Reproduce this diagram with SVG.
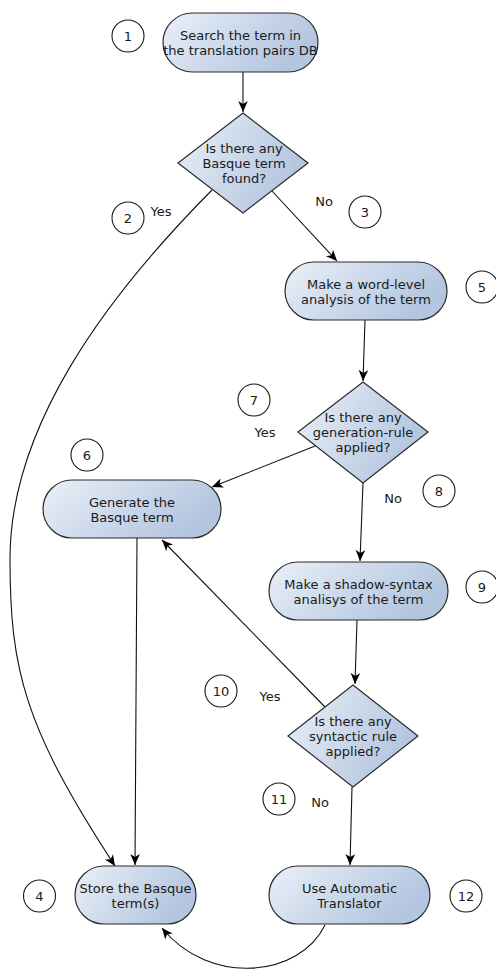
<svg xmlns="http://www.w3.org/2000/svg" width="496" height="971" viewBox="0 0 496 971">
<style>
.node{stroke:#2b2b2b;stroke-width:1.2;fill:url(#g)}
.t{font-family:"DejaVu Sans","Liberation Sans",sans-serif;font-size:13px;fill:#1a1a1a;text-anchor:middle}
.c{fill:#fff;stroke:#1a1a1a;stroke-width:1.1}
.e{fill:none;stroke:#111;stroke-width:1.1;marker-end:url(#ah)}
</style>
<defs>
<linearGradient id="g" x1="0" y1="0" x2="1" y2="0.4">
<stop offset="0" stop-color="#eaf0f8"/>
<stop offset="1" stop-color="#b3c5df"/>
</linearGradient>
<marker id="ah" viewBox="-12 -6 13 12" refX="0" refY="0" markerWidth="13" markerHeight="12" markerUnits="userSpaceOnUse" orient="auto">
<path d="M0,0 L-11,-4.8 L-8,0 L-11,4.8 z" fill="#000"/>
</marker>
</defs>
<rect width="496" height="971" fill="#fff"/>

<g id="connectors">
<path class="e" d="M243,72 L243,112"/>
<path class="e" d="M272,191 L337,261"/>
<path class="e" d="M365,320 L363,381"/>
<path class="e" d="M315,446 L212,487"/>
<path class="e" d="M363,483 L360,561"/>
<path class="e" d="M357,620 L355,684"/>
<path class="e" d="M325,707 L162,540"/>
<path class="e" d="M352,787 L350,865"/>
<path class="e" d="M137,538 L135,865"/>
<path class="e" d="M212,190 C102,301 10,429 10,559 C10,669 24,727 115,866"/>
<path class="e" d="M325,925 C300,977 210,987 162,928"/>
</g>

<g id="n1"><rect class="node" x="163" y="13" width="155" height="59" rx="29.5"/>
<text class="t" x="240.5" y="39.5">Search the term in</text><text class="t" x="240.5" y="54.5">the translation pairs DB</text></g>
<g id="c1"><circle class="c" cx="128" cy="36" r="16"/><text class="t" x="128" y="40.5">1</text></g>

<g id="d1"><polygon class="node" points="243,113 308,163 243,213 178,163"/>
<text class="t" x="244" y="153">Is there any</text><text class="t" x="244" y="168">Basque term</text><text class="t" x="244" y="183">found?</text></g>

<g id="c2"><circle class="c" cx="128" cy="218" r="16"/><text class="t" x="128" y="222.5">2</text></g>
<g id="l-yes1"><text class="t" x="161" y="216">Yes</text></g>
<g id="l-no1"><text class="t" x="324" y="206">No</text></g>
<g id="c3"><circle class="c" cx="365" cy="212" r="16"/><text class="t" x="365" y="216.5">3</text></g>

<g id="n5"><rect class="node" x="285" y="262" width="162" height="58" rx="29"/>
<text class="t" x="366" y="288.5">Make a word-level</text><text class="t" x="366" y="303.5">analysis of the term</text></g>
<g id="c5"><circle class="c" cx="482" cy="287" r="16"/><text class="t" x="482" y="291.5">5</text></g>

<g id="c7"><circle class="c" cx="254" cy="400" r="16"/><text class="t" x="254" y="404.5">7</text></g>
<g id="l-yes2"><text class="t" x="265" y="437">Yes</text></g>

<g id="d2"><polygon class="node" points="363,382 428,432 363,483 298,432"/>
<text class="t" x="363" y="422">Is there any</text><text class="t" x="363" y="437">generation-rule</text><text class="t" x="363" y="452">applied?</text></g>

<g id="c6"><circle class="c" cx="87" cy="455" r="16"/><text class="t" x="87" y="459.5">6</text></g>
<g id="n6"><rect class="node" x="43" y="480" width="178" height="58" rx="29"/>
<text class="t" x="132" y="506.5">Generate the</text><text class="t" x="132" y="521.5">Basque term</text></g>

<g id="c8"><circle class="c" cx="439" cy="491" r="16"/><text class="t" x="439" y="495.5">8</text></g>
<g id="l-no2"><text class="t" x="393" y="503">No</text></g>

<g id="n9"><rect class="node" x="269" y="562" width="179" height="58" rx="29"/>
<text class="t" x="358.5" y="588.5">Make a shadow-syntax</text><text class="t" x="358.5" y="603.5">analisys of the term</text></g>
<g id="c9"><circle class="c" cx="482" cy="587" r="16"/><text class="t" x="482" y="591.5">9</text></g>

<g id="c10"><circle class="c" cx="221" cy="691" r="16"/><text class="t" x="221" y="695.5">10</text></g>
<g id="l-yes3"><text class="t" x="270" y="701">Yes</text></g>

<g id="d3"><polygon class="node" points="353,685 418,736 353,787 288,736"/>
<text class="t" x="353" y="726">Is there any</text><text class="t" x="353" y="741">syntactic rule</text><text class="t" x="353" y="756">applied?</text></g>

<g id="c11"><circle class="c" cx="279" cy="799" r="16"/><text class="t" x="279" y="803.5">11</text></g>
<g id="l-no3"><text class="t" x="320" y="807">No</text></g>

<g id="c4"><circle class="c" cx="39.5" cy="896" r="16"/><text class="t" x="39.5" y="900.5">4</text></g>
<g id="n4"><rect class="node" x="75" y="866" width="121" height="58" rx="29"/>
<text class="t" x="135.5" y="892.5">Store the Basque</text><text class="t" x="135.5" y="907.5">term(s)</text></g>

<g id="n12"><rect class="node" x="269" y="866" width="161" height="58" rx="29"/>
<text class="t" x="349.5" y="892.5">Use Automatic</text><text class="t" x="349.5" y="907.5">Translator</text></g>
<g id="c12"><circle class="c" cx="466" cy="896" r="16"/><text class="t" x="466" y="900.5">12</text></g>
</svg>
